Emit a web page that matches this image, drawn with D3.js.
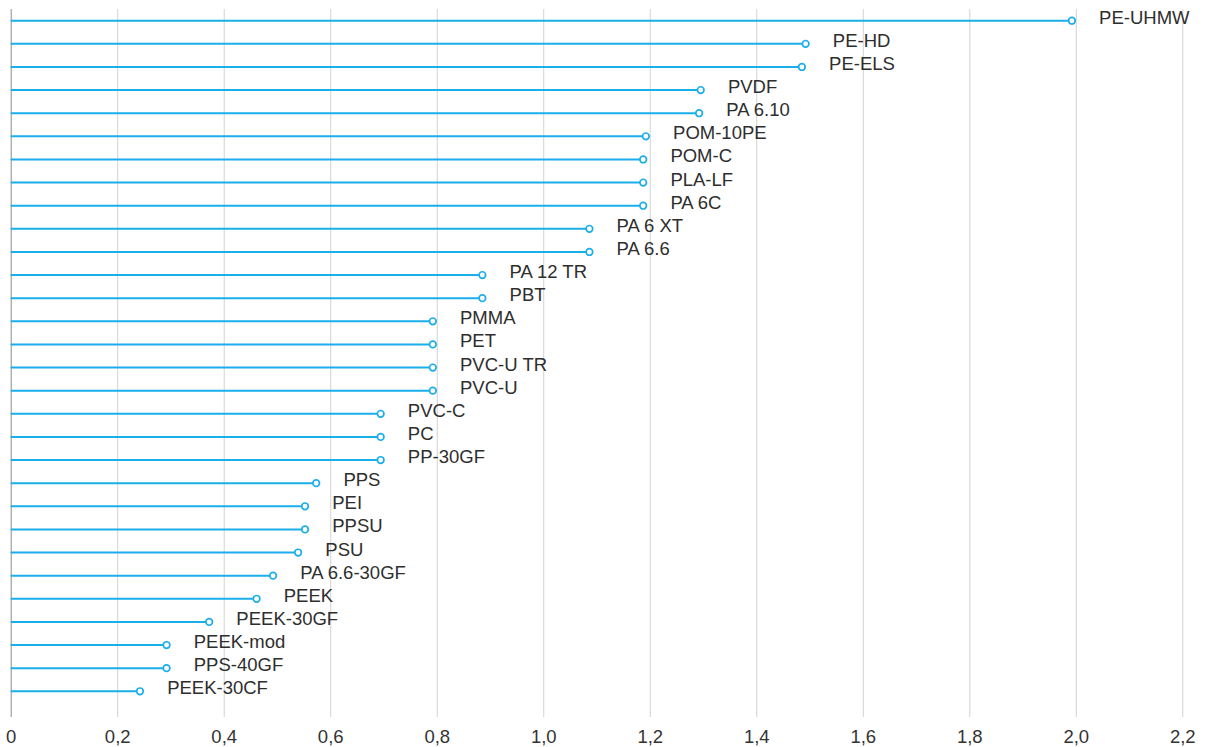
<!DOCTYPE html>
<html>
<head>
<meta charset="utf-8">
<script src="https://cdn.jsdelivr.net/npm/d3@7"></script>
<style>
  html, body { margin: 0; padding: 0; background: #fff; }
  svg { display: block; font-family: "Liberation Sans", Arial, Helvetica, sans-serif; }
</style>
</head>
<body>
<svg id="chart" width="1208" height="747"></svg>
<script>
const categories = ["PE-UHMW","PE-HD","PE-ELS","PVDF","PA 6.10","POM-10PE","POM-C","PLA-LF","PA 6C","PA 6 XT","PA 6.6","PA 12 TR","PBT","PMMA","PET","PVC-U TR","PVC-U","PVC-C","PC","PP-30GF","PPS","PEI","PPSU","PSU","PA 6.6-30GF","PEEK","PEEK-30GF","PEEK-mod","PPS-40GF","PEEK-30CF"];
const values = [2.0,1.5,1.493,1.303,1.3,1.2,1.195,1.195,1.195,1.094,1.094,0.893,0.893,0.8,0.8,0.8,0.8,0.702,0.702,0.702,0.581,0.56,0.56,0.547,0.5,0.469,0.38,0.3,0.3,0.25];
const tickValues = [0,0.2,0.4,0.6,0.8,1.0,1.2,1.4,1.6,1.8,2.0,2.2];

const svg = d3.select("#chart");
const x = d3.scaleLinear().domain([0, 2.2]).range([10.7, 1182.3]);
const y = d3.scalePoint().domain(categories).range([20.7, 691.3]).padding(0);
const gridTop = 9, gridBottom = 717;
const r = 3.3;

// axis + grid
const axis = d3.axisBottom(x)
  .tickValues(tickValues)
  .tickSize(-(gridBottom - gridTop))
  .tickPadding(13)
  .tickFormat(d => d3.format(".1f")(d).replace(".", ",").replace(/^0,0$/, "0"));
const gAxis = svg.append("g").attr("transform", `translate(0,${gridBottom})`).call(axis);
gAxis.select(".domain").remove();
gAxis.selectAll(".tick line").attr("stroke", (d) => d === 0 ? "#8c8c8c" : "#d2d2d2").attr("stroke-width", 1);
gAxis.selectAll(".tick text").attr("fill", "#333").attr("font-size", "18.5px");

const data = categories.map((c, i) => ({ c, v: values[i] }));

const g = svg.append("g");
g.selectAll("line.stem").data(data).join("line")
  .attr("class", "stem")
  .attr("x1", x(0))
  .attr("x2", d => x(d.v) - 3.9 - r)
  .attr("y1", d => y(d.c)).attr("y2", d => y(d.c))
  .attr("stroke", "#1aaeea").attr("stroke-width", 2);

g.selectAll("circle").data(data).join("circle")
  .attr("cx", d => x(d.v) - 3.9)
  .attr("cy", d => y(d.c))
  .attr("r", r)
  .attr("fill", "#fff").attr("stroke", "#1aaeea").attr("stroke-width", 1.7);

g.selectAll("text.lbl").data(data).join("text")
  .attr("class", "lbl")
  .attr("x", d => x(d.v) + 23.3)
  .attr("y", d => y(d.c) + 3)
  .attr("fill", "#2e2e2e")
  .attr("font-size", "18.5px")
  .text(d => d.c);
</script>
</body>
</html>
